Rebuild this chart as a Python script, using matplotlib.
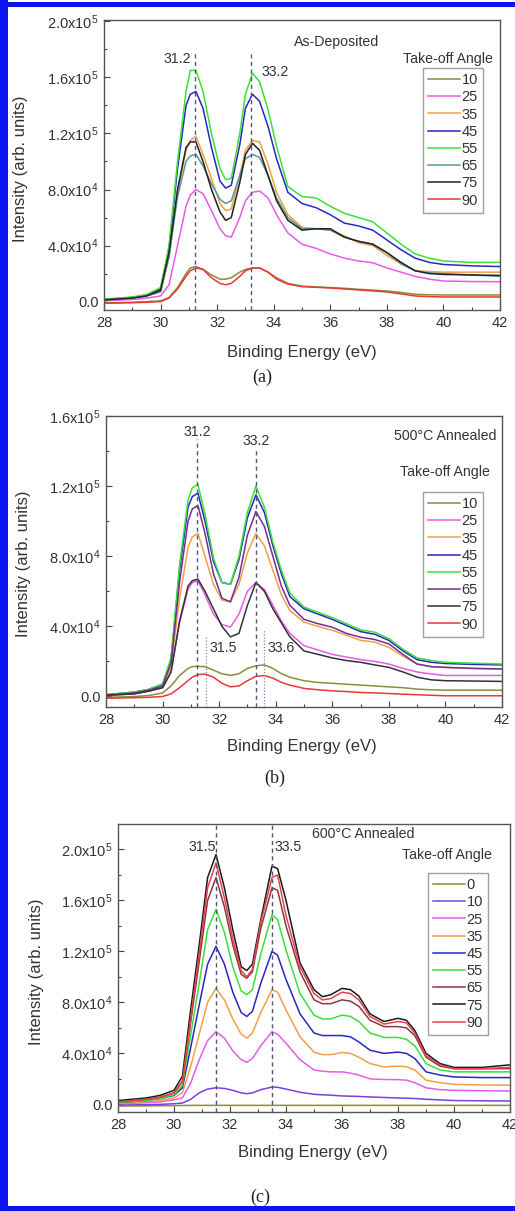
import numpy as np
import matplotlib
matplotlib.use("Agg")
import matplotlib.pyplot as plt
from matplotlib.patches import Rectangle
from matplotlib.ticker import MultipleLocator

plt.rcParams['font.family'] = ['Liberation Sans', 'DejaVu Sans']
plt.rcParams['mathtext.default'] = 'regular'

# ---------------- data (intensity in units of 1e3 counts) ----------------
angles_a = ["10", "25", "35", "45", "55", "65", "75", "90"]
colors_a = ["#8c8c3c", "#e85ce8", "#f0a04a", "#2828c0", "#3ae03a", "#5f9595", "#222222", "#e83838"]
energy_a = [28, 29, 29.5, 30, 30.3, 30.6, 30.9, 31.05, 31.25, 31.5, 31.8, 32.1, 32.3, 32.5, 32.8,
            33.0, 33.25, 33.5, 33.8, 34.1, 34.5, 35, 35.5, 36, 36.5, 37, 37.5, 38, 38.5, 39, 39.5, 40, 41, 42]
a_10 = [-1, -0.5, 0, 0.5, 3, 10, 20, 24, 25, 23, 19, 16, 16, 17, 21, 23, 24, 24, 21, 17, 13, 11, 10.5,
        10, 9.5, 8.8, 8.2, 7.6, 6.5, 5.2, 4.9, 4.7, 4.7, 4.7]
a_25 = [0.5, 1.5, 2.5, 4, 12, 40, 68, 76, 80, 77, 65, 52, 47, 46, 60, 72, 78, 79, 74, 62, 49, 41, 38,
        34, 31, 29, 27.7, 24, 21, 18, 16, 14.7, 14.3, 14.2]
a_35 = [1.2, 2.5, 4, 7, 32, 78, 108, 115, 118, 105, 88, 70, 65, 66, 90, 108, 115, 114, 98, 78, 62, 53,
        52, 51, 47, 42, 40, 33, 27, 22, 21.5, 21, 21, 21]
a_45 = [1.5, 3, 4.5, 9, 38, 95, 140, 148, 150, 138, 110, 86, 81, 83, 112, 138, 148, 143, 125, 102, 78,
        70, 67, 62, 56, 54, 51, 44, 37, 31, 28, 26.5, 25.5, 25]
a_55 = [1.7, 3.3, 5, 10, 40, 100, 150, 165, 165, 150, 120, 95, 87, 88, 120, 148, 163, 157, 137, 111, 82,
        75, 74, 68, 63, 60, 57, 49, 41, 34, 31, 29, 28, 28]
a_65 = [1.2, 2.5, 4, 7, 32, 75, 100, 104, 105, 97, 84, 73, 70, 72, 90, 102, 105, 103, 90, 74, 60, 52,
        52, 51, 46, 43, 41, 35, 27, 22, 20.5, 20, 19, 18]
a_75 = [1.2, 2.5, 4, 8, 35, 80, 110, 114, 114, 100, 80, 64, 58, 60, 85, 105, 113, 108, 90, 72, 58, 51,
        52, 52, 46, 43, 41, 35, 28, 22, 20, 19.4, 19, 18.7]
a_90 = [-1.2, -0.8, -0.5, 0, 2.5, 9, 18, 22, 24, 23, 17, 13, 12, 13, 18, 22, 24, 24, 21, 16, 12.5, 10.7,
        10.2, 9.7, 9, 8.3, 7.6, 6.9, 5.5, 4, 3.6, 3.3, 3.3, 3.3]

angles_b = ["10", "25", "35", "45", "55", "65", "75", "90"]
colors_b = ["#8c8c3c", "#e85ce8", "#f0a04a", "#2828c0", "#3ae03a", "#74308e", "#333333", "#e83838"]
energy_b = [28, 29, 29.5, 30, 30.3, 30.6, 30.9, 31.05, 31.25, 31.5, 31.8, 32.1, 32.4, 32.7, 33.0, 33.3,
            33.6, 33.9, 34.2, 34.5, 35, 35.5, 36, 36.5, 37, 37.5, 38, 38.5, 39, 39.5, 40, 41, 42]
b_10 = [-0.5, 0, 0.5, 2, 6, 12, 16, 17, 17.2, 17, 15, 13, 12, 13, 16, 17.5, 18, 16, 13, 11, 9, 8, 7.5,
        7, 6.5, 6, 5.5, 5, 4.2, 3.8, 3.6, 3.6, 3.6]
b_25 = [0.6, 1.5, 3, 5, 14, 42, 61, 65, 66, 58, 47, 41, 39.6, 47, 60, 65, 61, 52, 43, 36, 29, 26.5, 24,
        22.5, 21, 20, 18.5, 16, 14, 12.8, 12, 12, 12]
b_35 = [0.8, 2, 3.5, 6, 17, 56, 85, 91, 93, 80, 64, 55, 54, 64, 82, 93, 86, 72, 58, 49, 42.4, 40, 37.7,
        35, 32, 31, 28, 23, 18.5, 17, 16.6, 16, 15.7]
b_45 = [1, 2.5, 4, 7, 21, 72, 108, 114, 116, 100, 77, 65, 64, 78, 102, 115, 105, 86, 70, 57, 50, 47, 44,
        40.5, 37, 35.5, 32, 26, 21, 19.5, 18.8, 18.3, 18]
b_55 = [1, 2.5, 4, 7, 22, 75, 112, 119, 121, 104, 79, 65, 64, 80, 105, 120, 108, 88, 72, 59, 51, 48, 45,
        41.5, 38, 36.7, 33, 27, 22, 20.5, 19.5, 19, 18.5]
b_65 = [0.8, 2, 3.5, 6, 19, 65, 100, 107, 109, 93, 70, 56, 54, 68, 92, 105.5, 97, 80, 63, 52, 44, 41.5,
        39.5, 36, 33.8, 32.5, 30, 24, 18.5, 17, 16.6, 16, 15.7]
b_75 = [0.6, 1.5, 3, 5, 14, 43, 63, 66, 67, 60, 50, 40, 34, 36, 52, 65, 60, 50, 42, 34, 26, 24, 22,
        20.5, 19.5, 18, 16.6, 14, 11, 9.5, 9, 8.8, 8.6]
b_90 = [-1, -0.7, -0.5, 0, 1.5, 5, 9, 11, 12.5, 12.8, 11, 7.5, 5.5, 6, 9, 11.5, 11.9, 10.5, 8, 6.5, 4.6,
        3.8, 3.2, 2.8, 2.3, 2, 1.7, 1.3, 1, 0.7, 0.4, 0.4, 0.4]

angles_c = ["0", "10", "25", "35", "45", "55", "65", "75", "90"]
colors_c = ["#8c8c3c", "#7a40e0", "#e85ce8", "#f0a04a", "#2828c0", "#3ae03a", "#8b3a3a", "#1a1a1a", "#e84050"]
energy_c = [28, 29, 29.5, 30, 30.3, 30.6, 30.9, 31.2, 31.5, 31.8, 32.1, 32.4, 32.6, 32.8, 33.1, 33.5,
            33.7, 34.0, 34.5, 35, 35.3, 35.6, 36, 36.3, 36.6, 37, 37.5, 38, 38.3, 38.6, 39, 39.5, 40, 41, 42]
c_0 = [-1.3, -1.2, -1.1, -1, -0.9, -0.8, -0.8, -0.8, -0.8, -0.8, -0.8, -0.8, -0.8, -0.8, -0.8, -0.8,
       -0.8, -0.8, -0.8, -0.8, -0.8, -0.8, -0.8, -0.8, -0.8, -0.8, -0.8, -0.8, -0.8, -0.8, -0.8, -0.8,
       -0.8, -0.8, -0.8]
c_10 = [-0.5, -0.3, 0, 0.5, 1, 4, 9, 12, 13, 12.5, 11, 9, 8.4, 9, 11.5, 13.6, 13.4, 12, 9.5, 7.9, 7.5,
        7.2, 6.6, 6.4, 6.2, 5.8, 5.4, 5, 4.8, 4.6, 4, 3.5, 3, 2.8, 2.6]
c_25 = [0.5, 1.2, 2, 3.5, 5, 17, 35, 50, 57, 52, 42, 35, 33, 36, 46, 57, 55, 48, 35, 27, 26, 25.5, 25.5,
        24.5, 23, 20, 19.5, 19.4, 19, 17, 13, 11.5, 11, 10.7, 10.5]
c_35 = [1, 2, 3, 5, 9, 30, 55, 80, 91, 82, 67, 55, 52, 56, 72, 90, 88, 74, 53, 41, 39, 39, 40.7, 40, 37,
        32, 29.4, 30, 29.5, 27, 19, 17, 15.7, 15.2, 15]
c_45 = [1.5, 3, 4.5, 7, 13, 45, 78, 110, 124, 110, 88, 72, 69, 73, 95, 120, 117, 98, 71, 56, 54, 54, 54,
        53, 49, 42.5, 40, 41, 40, 36, 25.5, 23, 21.5, 21, 21]
c_55 = [1.5, 3, 4.5, 7.5, 15, 55, 95, 137, 153, 135, 108, 89, 86, 90, 118, 149, 145, 121, 87, 70, 67, 67,
        70, 69, 65, 56, 52.5, 52.5, 51, 46, 32, 27, 25.5, 25.5, 25.5]
c_65 = [2, 4, 5.5, 9, 18, 65, 112, 160, 178, 155, 125, 102, 99, 104, 138, 170, 168, 140, 104, 82, 79,
        79, 82, 81, 77, 66, 61, 61, 60, 54, 37, 30, 28, 28, 28]
c_75 = [3, 5, 7, 11, 22, 75, 125, 178, 196, 170, 137, 108, 105, 110, 145, 187, 185, 160, 111, 90, 84.5,
        86, 91, 90, 85, 71, 65, 67.5, 66, 58, 40, 32, 29, 29, 31]
c_90 = [2, 4, 5.5, 9, 18, 68, 118, 170, 189.5, 162, 130, 105, 100, 106, 143, 178, 180, 148, 108, 87, 82,
        83, 88, 87, 82, 69, 63, 65, 64, 56, 38, 31, 28, 28, 29]

yticks_a = [0, 4e4, 8e4, 1.2e5, 1.6e5, 2.0e5]
yticks_b = [0, 4e4, 8e4, 1.2e5, 1.6e5]
yticks_c = [0, 4e4, 8e4, 1.2e5, 1.6e5, 2.0e5]
xticks = [28, 30, 32, 34, 36, 38, 40, 42]

# ---------------- figure ----------------
W, H = 515, 1211
fig = plt.figure(figsize=(W / 100, H / 100), dpi=100)


def fx(px):
    return px / W


def fy(py):
    return 1 - py / H


def ytick_label(v):
    if v == 0:
        return "0.0"
    e = int(np.floor(np.log10(v)))
    m = v / 10 ** e
    return f"{m:.1f}x10$^{{{e}}}$"


def make_axes(l, t, r, b, ylim, yticks):
    ax = fig.add_axes([fx(l), fy(b), fx(r) - fx(l), fy(t) - fy(b)])
    ax.set_xlim(28, 42)
    ax.set_ylim(*ylim)
    ax.set_xticks(xticks)
    ax.set_xticklabels([str(t) for t in xticks])
    ax.xaxis.set_minor_locator(MultipleLocator(1))
    ax.set_yticks(yticks)
    ax.set_yticklabels([ytick_label(v) for v in yticks])
    ax.yaxis.set_minor_locator(MultipleLocator(2e4))
    ax.tick_params(which='both', direction='in', colors='#444444', labelcolor='#333333',
                   labelsize=10.5, width=0.8)
    ax.tick_params(which='major', length=4, pad=4)
    ax.tick_params(which='minor', length=2.5)
    for s in ax.spines.values():
        s.set_color('#555555')
        s.set_linewidth(1.0)
    return ax


def draw_series(ax, energy, series, labels, colors):
    handles = []
    for vals, lab, col in zip(series, labels, colors):
        h, = ax.plot(energy, np.array(vals) * 1e3, color=col, lw=1.1, label=lab)
        handles.append(h)
    return handles


def add_legend(ax, handles, l, t):
    leg = ax.legend(handles=handles, loc='upper left', bbox_to_anchor=(fx(l), fy(t)),
                    bbox_transform=fig.transFigure, fontsize=10.5, frameon=True, fancybox=False,
                    handlelength=2.2, handletextpad=0.1, labelspacing=0.22, borderpad=0.35,
                    borderaxespad=0, markerfirst=True)
    leg.get_frame().set_edgecolor('#888888')
    leg.get_frame().set_linewidth(1.0)
    for txt in leg.get_texts():
        txt.set_color('#333333')
    return leg


txtc = '#333333'
fs_ann = 10.2

# ---- panel (a) ----
axa = make_axes(104, 20, 500, 310, (-6e3, 2.01e5), yticks_a)
for xv, ytop in [(31.2, 179e3), (33.2, 177e3)]:
    axa.vlines(xv, -6e3, ytop, colors='#555577', linestyles=(0, (3, 2.5)), lw=1.0, zorder=5)
ha = draw_series(axa, energy_a, [a_10, a_25, a_35, a_45, a_55, a_65, a_75, a_90], angles_a, colors_a)
axa.text(36.24, 185e3, "As-Deposited", ha='center', va='center', fontsize=fs_ann, color=txtc)
axa.text(40.16, 173e3, "Take-off Angle", ha='center', va='center', fontsize=fs_ann, color=txtc)
axa.text(30.58, 173.5e3, "31.2", ha='center', va='center', fontsize=fs_ann, color=txtc)
axa.text(34.04, 164e3, "33.2", ha='center', va='center', fontsize=fs_ann, color=txtc)
add_legend(axa, ha, 423, 68)

# ---- panel (b) ----
axb = make_axes(106, 416, 502, 707, (-6e3, 1.6e5), yticks_b)
for xv, ytop in [(31.2, 147e3), (33.3, 142e3)]:
    axb.vlines(xv, -6e3, ytop, colors='#555577', linestyles=(0, (3, 2.5)), lw=1.0, zorder=5)
for xv, ytop in [(31.55, 34e3), (33.6, 38.4e3)]:
    axb.vlines(xv, -6e3, ytop, colors='#888899', linestyles=(0, (1, 1.5)), lw=0.9, zorder=5)
hb = draw_series(axb, energy_b, [b_10, b_25, b_35, b_45, b_55, b_65, b_75, b_90], angles_b, colors_b)
axb.text(39.98, 148.5e3, "500°C Annealed", ha='center', va='center', fontsize=fs_ann, color=txtc)
axb.text(39.98, 127.9e3, "Take-off Angle", ha='center', va='center', fontsize=fs_ann, color=txtc)
axb.text(31.22, 150.8e3, "31.2", ha='center', va='center', fontsize=fs_ann, color=txtc)
axb.text(33.30, 146e3, "33.2", ha='center', va='center', fontsize=fs_ann, color=txtc)
axb.text(32.14, 27.5e3, "31.5", ha='center', va='center', fontsize=fs_ann, color=txtc)
axb.text(34.19, 27.5e3, "33.6", ha='center', va='center', fontsize=fs_ann, color=txtc)
add_legend(axb, hb, 423, 492)

# ---- panel (c) ----
axc = make_axes(118, 824, 510, 1112, (-6e3, 2.2e5), yticks_c)
for xv in [31.5, 33.5]:
    axc.vlines(xv, -6e3, 2.2e5, colors='#555577', linestyles=(0, (3, 2.5)), lw=1.0, zorder=5)
hc = draw_series(axc, energy_c, [c_0, c_10, c_25, c_35, c_45, c_55, c_65, c_75, c_90], angles_c, colors_c)
axc.text(36.75, 211.8e3, "600°C Annealed", ha='center', va='center', fontsize=fs_ann, color=txtc)
axc.text(39.75, 196e3, "Take-off Angle", ha='center', va='center', fontsize=fs_ann, color=txtc)
axc.text(31.0, 201.6e3, "31.5", ha='center', va='center', fontsize=fs_ann, color=txtc)
axc.text(34.07, 201.6e3, "33.5", ha='center', va='center', fontsize=fs_ann, color=txtc)
add_legend(axc, hc, 428, 873)

# ---- axis labels and panel tags ----
for (xl_x, xl_y, yl_x, yl_y, tag, tag_x, tag_y) in [
        (302, 352, 21, 169, "(a)", 262, 377),
        (302, 747, 24, 564, "(b)", 275, 778),
        (313, 1152, 37, 972, "(c)", 260, 1197)]:
    fig.text(fx(xl_x), fy(xl_y), "Binding Energy (eV)", ha='center', va='center',
             fontsize=12, color=txtc)
    fig.text(fx(yl_x), fy(yl_y), "Intensity (arb. units)", ha='center', va='center',
             rotation=90, fontsize=12, color=txtc)
    fig.text(fx(tag_x), fy(tag_y), tag, ha='center', va='center', fontsize=13,
             family=['Liberation Serif', 'DejaVu Serif'], color='#222222')

# ---- blue frame ----
blue = '#0a14f0'
fig.add_artist(Rectangle((0, fy(7)), 1, fy(2) - fy(7), transform=fig.transFigure,
                         color=blue, lw=0, zorder=10))
fig.add_artist(Rectangle((0, 0), fx(8), 1, transform=fig.transFigure, color=blue, lw=0, zorder=10))
fig.add_artist(Rectangle((0, 0), 1, fy(1206), transform=fig.transFigure, color=blue, lw=0, zorder=10))

fig.savefig("out.png", dpi=100, facecolor='white')
